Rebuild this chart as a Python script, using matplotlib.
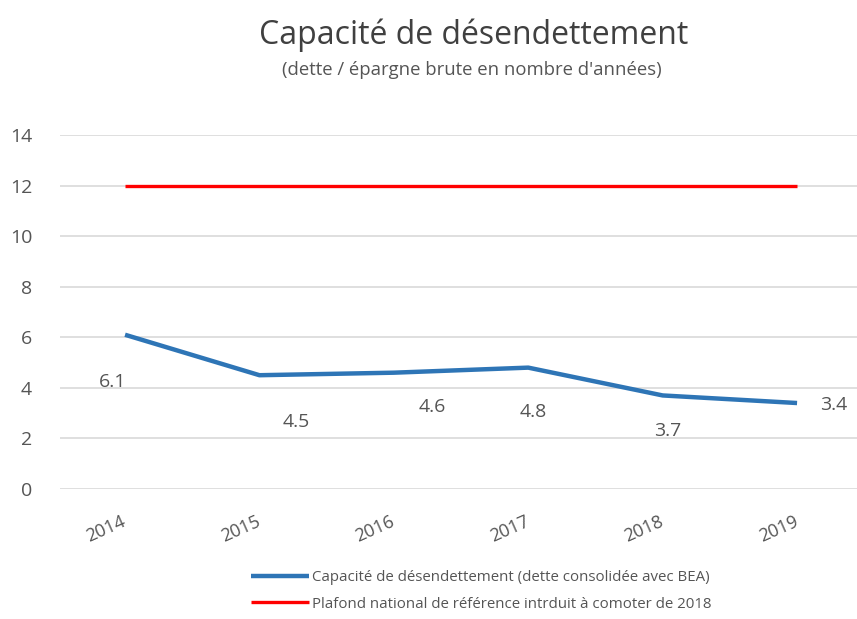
import matplotlib
matplotlib.use("Agg")
import matplotlib.pyplot as plt

plt.rcParams['font.family'] = ['Open Sans', 'DejaVu Sans']

years = ["2014", "2015", "2016", "2017", "2018", "2019"]
capacite = [6.1, 4.5, 4.6, 4.8, 3.7, 3.4]
plafond = [12, 12, 12, 12, 12, 12]
label_capacite = "Capacité de désendettement (dette consolidée avec BEA)"
label_plafond = "Plafond national de référence intrduit à comoter de 2018"

# offsets of the value labels in pixels (x, y)
label_offsets = [(-12, -47), (37, -47), (38, -34), (5, -44), (5, -36), (37, -2)]

fig = plt.figure(figsize=(8.57, 6.19), dpi=100)
ax = fig.add_axes([60 / 857, 1 - 489 / 619, 797 / 857, (489 - 135) / 619])

x = list(range(len(years)))
ax.plot(x, capacite, color="#2E75B6", linewidth=3.2, solid_capstyle="butt", label=label_capacite)
ax.plot(x, plafond, color="#FF0000", linewidth=2.4, solid_capstyle="butt", label=label_plafond)

for xi, v, off in zip(x, capacite, label_offsets):
    ax.annotate(f"{v:.1f}", (xi, v), xytext=off, textcoords="offset pixels",
                ha="center", va="center", fontsize=14, color="#555555")

ax.set_ylim(0, 14)
ax.set_yticks(range(0, 15, 2))
ax.set_xlim(-0.484, 5.446)
ax.set_xticks(x)
ax.set_xticklabels(years, rotation=24, fontsize=13, color="#555555",
                   ha="right", va="center", rotation_mode="anchor")
ax.tick_params(axis="y", labelsize=14, labelcolor="#555555", length=0, pad=20)
ax.tick_params(axis="x", length=0, pad=23)
ax.yaxis.grid(True, color="#D9D9D9", linewidth=1.2)
ax.set_axisbelow(True)
for s in ax.spines.values():
    s.set_visible(False)

fig.text(474 / 857, 1 - 35 / 619, "Capacité de désendettement", ha="center", va="center",
         fontsize=23, color="#404040")
fig.text(472 / 857, 1 - 70 / 619, "(dette / épargne brute en nombre d'années)", ha="center",
         va="center", fontsize=13.3, color="#555555")

leg = fig.legend(loc="center", bbox_to_anchor=(481 / 857, 1 - 591 / 619), ncol=1, frameon=False,
                 fontsize=10.8, handlelength=3.9, handletextpad=0.2, labelspacing=0.75,
                 labelcolor="#555555")

fig.savefig("out.png", dpi=100)
